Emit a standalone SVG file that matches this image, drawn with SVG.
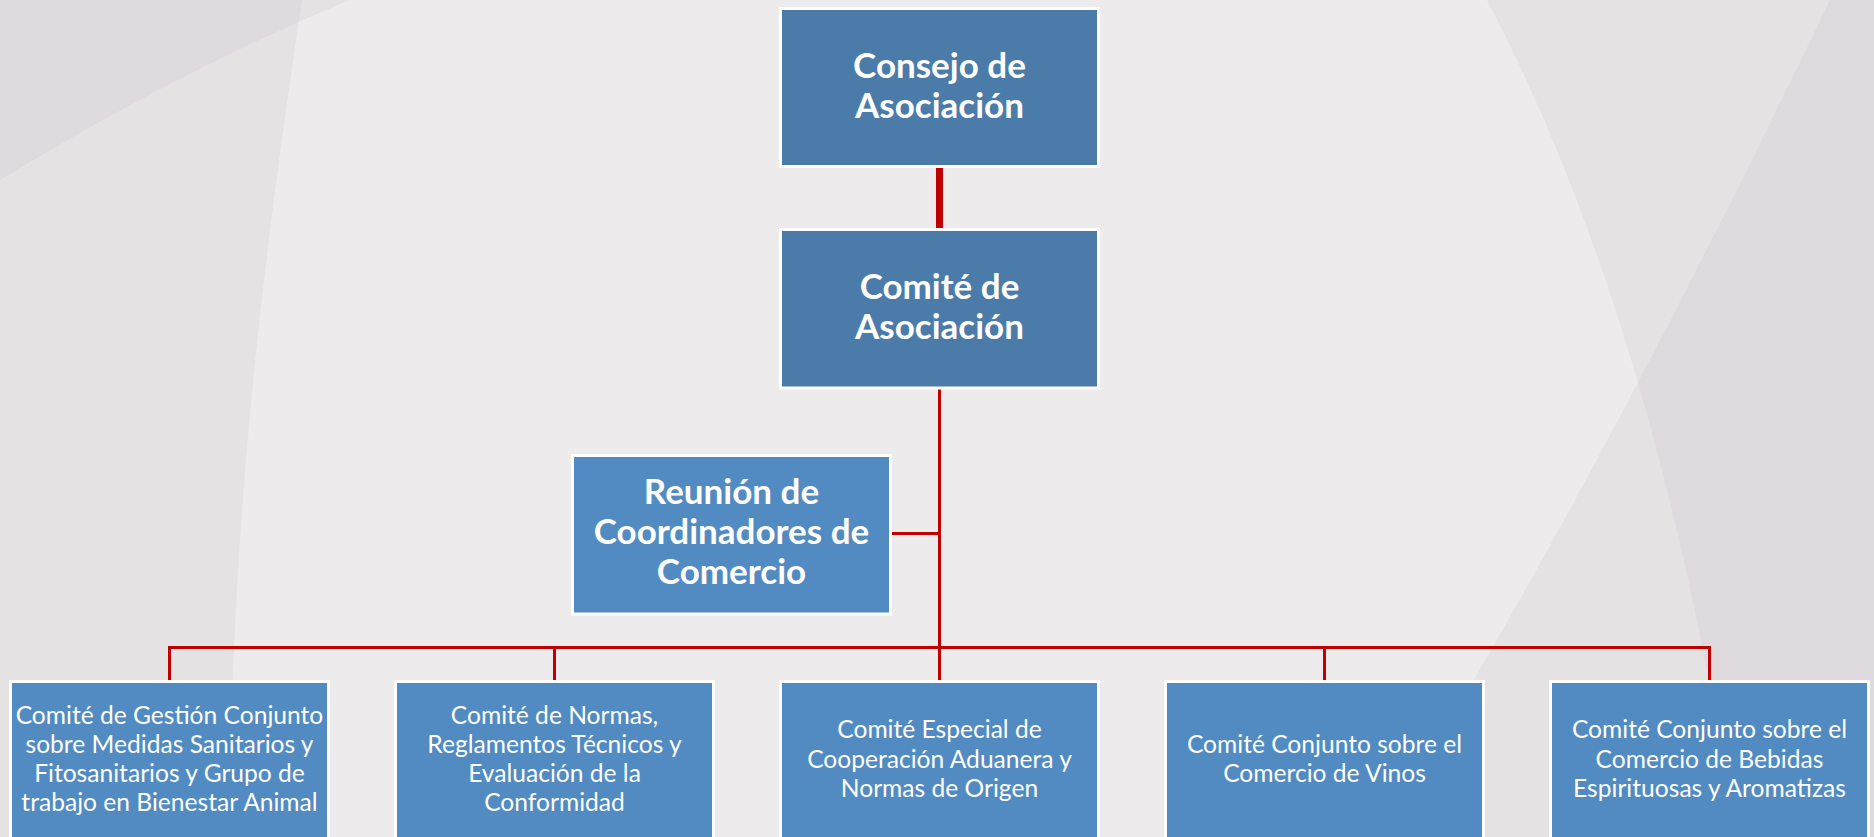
<svg xmlns="http://www.w3.org/2000/svg" width="1874" height="837" viewBox="0 0 1874 837">
<style>
.bg-ov{fill:#3c3444;fill-opacity:0.045}
.box-dark{fill:#4A7BA9;stroke:#FFFFFF;stroke-width:3}
.box-light{fill:#528BC1;stroke:#FFFFFF;stroke-width:3}
.t-bold{font-family:Lato,"Open Sans","Liberation Sans",sans-serif;font-weight:bold;font-size:35px;fill:#FFFFFF;text-anchor:middle}
.t-reg{font-family:Lato,"Open Sans","Liberation Sans",sans-serif;font-size:24.6px;fill:#FFFFFF;text-anchor:middle}
.conn{stroke:#C00000;stroke-width:3;fill:none}
.conn-thick{stroke:#C00000;stroke-width:7;fill:none}
</style>
<rect x="0" y="0" width="1874" height="837" fill="#EDEBEC"/>
<g id="background">
<path class="bg-ov" d="M0,0 L302,0 C265,250 232,500 229,837 L0,837 Z"/>
<path class="bg-ov" d="M0,0 L350,0 Q180,70 0,180 Z"/>
<path class="bg-ov" d="M1487,0 Q1660,330 1735,837 L1874,837 L1874,0 Z"/>
<path class="bg-ov" d="M1830,0 Q1600,480 1380,837 L1874,837 L1874,0 Z"/>
</g>
<g id="connectors">
<line class="conn-thick" x1="939.5" y1="166" x2="939.5" y2="231"/>
<line class="conn" x1="939.5" y1="388" x2="939.5" y2="681"/>
<line class="conn" x1="890" y1="533.5" x2="939.5" y2="533.5"/>
<polyline class="conn" points="169.5,681 169.5,647.5 1709.5,647.5 1709.5,681"/>
<line class="conn" x1="554.5" y1="647.5" x2="554.5" y2="681"/>
<line class="conn" x1="1324.5" y1="647.5" x2="1324.5" y2="681"/>
</g>
<g id="node-consejo">
<rect class="box-dark" x="780.5" y="8.5" width="318" height="158"/>
<text class="t-bold" x="939.5" y="78">Consejo de</text>
<text class="t-bold" x="939.5" y="118">Asociación</text>
</g>
<g id="node-comite-asociacion">
<rect class="box-dark" x="780.5" y="229.5" width="318" height="158.5"/>
<text class="t-bold" x="939.5" y="299">Comité de</text>
<text class="t-bold" x="939.5" y="339">Asociación</text>
</g>
<g id="node-reunion">
<rect class="box-light" x="572.5" y="455.5" width="318" height="158.5"/>
<text class="t-bold" x="731.5" y="503.5">Reunión de</text>
<text class="t-bold" x="731.5" y="543.8">Coordinadores de</text>
<text class="t-bold" x="731.5" y="584">Comercio</text>
</g>
<g id="node-msf">
<rect class="box-light" x="10.5" y="681.5" width="318" height="160"/>
<text class="t-reg" x="169.5" y="723.5">Comité de Gestión Conjunto</text>
<text class="t-reg" x="169.5" y="752.8">sobre Medidas Sanitarios y</text>
<text class="t-reg" x="169.5" y="782.1">Fitosanitarios y Grupo de</text>
<text class="t-reg" x="169.5" y="811.4">trabajo en Bienestar Animal</text>
</g>
<g id="node-normas">
<rect class="box-light" x="395.5" y="681.5" width="318" height="160"/>
<text class="t-reg" x="554.5" y="723.5">Comité de Normas,</text>
<text class="t-reg" x="554.5" y="752.8">Reglamentos Técnicos y</text>
<text class="t-reg" x="554.5" y="782.1">Evaluación de la</text>
<text class="t-reg" x="554.5" y="811.4">Conformidad</text>
</g>
<g id="node-aduanera">
<rect class="box-light" x="780.5" y="681.5" width="318" height="160"/>
<text class="t-reg" x="939.5" y="738.2">Comité Especial de</text>
<text class="t-reg" x="939.5" y="767.5">Cooperación Aduanera y</text>
<text class="t-reg" x="939.5" y="796.8">Normas de Origen</text>
</g>
<g id="node-vinos">
<rect class="box-light" x="1165.5" y="681.5" width="318" height="160"/>
<text class="t-reg" x="1324.5" y="752.8">Comité Conjunto sobre el</text>
<text class="t-reg" x="1324.5" y="782.1">Comercio de Vinos</text>
</g>
<g id="node-bebidas">
<rect class="box-light" x="1550.5" y="681.5" width="318" height="160"/>
<text class="t-reg" x="1709.5" y="738.2">Comité Conjunto sobre el</text>
<text class="t-reg" x="1709.5" y="767.5">Comercio de Bebidas</text>
<text class="t-reg" x="1709.5" y="796.8">Espirituosas y Aromatizas</text>
</g>
</svg>
